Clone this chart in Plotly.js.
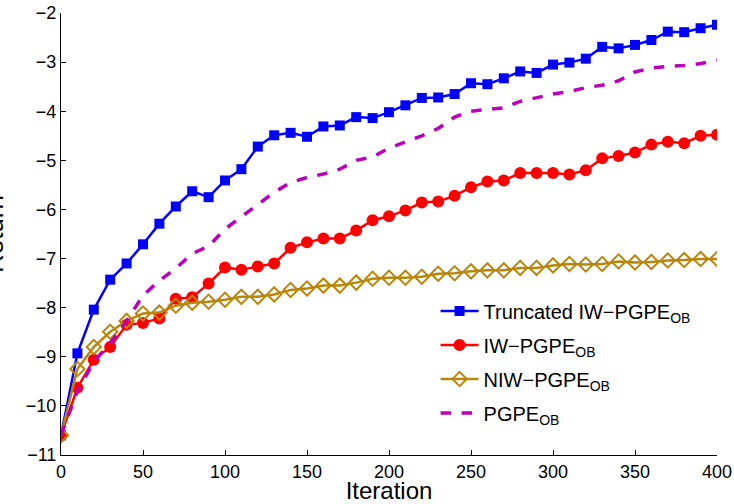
<!DOCTYPE html>
<html>
<head>
<meta charset="utf-8">
<script src="https://cdn.plot.ly/plotly-3.0.1.min.js"></script>
<style>html,body{margin:0;padding:0;background:#fff;}#chart{width:734px;height:504px;}</style>
</head>
<body>
<div id="chart"></div>
<script>
const iterations = [0,10,20,30,40,50,60,70,80,90,100,110,120,130,140,150,160,170,180,190,200,210,220,230,240,250,260,270,280,290,300,310,320,330,340,350,360,370,380,390,400];
const truncatedIW = [-10.6,-8.93,-8.04,-7.43,-7.10,-6.71,-6.29,-5.94,-5.63,-5.75,-5.41,-5.18,-4.72,-4.49,-4.44,-4.52,-4.31,-4.29,-4.12,-4.14,-4.02,-3.88,-3.73,-3.72,-3.65,-3.43,-3.45,-3.33,-3.19,-3.22,-3.05,-3.01,-2.93,-2.69,-2.72,-2.65,-2.55,-2.38,-2.39,-2.31,-2.24];
const iwPGPE = [-10.6,-9.63,-9.06,-8.80,-8.35,-8.31,-8.22,-7.82,-7.79,-7.51,-7.18,-7.23,-7.16,-7.10,-6.78,-6.67,-6.59,-6.59,-6.43,-6.22,-6.14,-6.02,-5.86,-5.84,-5.72,-5.55,-5.43,-5.41,-5.26,-5.26,-5.26,-5.29,-5.20,-4.96,-4.91,-4.84,-4.68,-4.62,-4.65,-4.50,-4.48];
const niwPGPE = [-10.6,-9.25,-8.80,-8.49,-8.27,-8.12,-8.10,-7.96,-7.90,-7.88,-7.84,-7.78,-7.78,-7.73,-7.64,-7.61,-7.55,-7.55,-7.49,-7.41,-7.39,-7.39,-7.37,-7.31,-7.30,-7.26,-7.24,-7.24,-7.19,-7.19,-7.14,-7.11,-7.12,-7.11,-7.06,-7.08,-7.07,-7.04,-7.03,-7.01,-7.01];
const pgpe = [-10.6,-9.7,-9.1,-8.72,-8.27,-7.75,-7.45,-7.2,-6.9,-6.75,-6.4,-6.15,-5.9,-5.65,-5.45,-5.35,-5.28,-5.18,-5.0,-4.93,-4.75,-4.62,-4.5,-4.35,-4.12,-4.0,-3.96,-3.93,-3.8,-3.72,-3.65,-3.6,-3.52,-3.47,-3.38,-3.2,-3.12,-3.09,-3.07,-3.03,-2.96];
const seriesNames = ['Truncated IW\u2212PGPE<sub>OB</sub>','IW\u2212PGPE<sub>OB</sub>','NIW\u2212PGPE<sub>OB</sub>','PGPE<sub>OB</sub>'];
const xTicks = [0,50,100,150,200,250,300,350,400];
const yTicks = [-11,-10,-9,-8,-7,-6,-5,-4,-3,-2];

const gold = '#B8860B';
const traces = [
  {x: iterations, y: truncatedIW, name: seriesNames[0], legendgroup: 'a', mode: 'lines+markers',
   line: {color: '#0000FF', width: 2.5}, marker: {symbol: 'square', size: 10, color: '#0000FF'}},
  {x: iterations, y: iwPGPE, name: seriesNames[1], legendgroup: 'b', mode: 'lines+markers',
   line: {color: '#FF0000', width: 2.5}, marker: {symbol: 'circle', size: 12, color: '#FF0000'}},
  {x: iterations, y: niwPGPE, name: seriesNames[2], legendgroup: 'c', mode: 'lines+markers',
   line: {color: gold, width: 2.5}, marker: {symbol: 'diamond-open', size: 11, color: gold, line: {width: 2, color: gold}}},
  {x: iterations, y: pgpe, name: seriesNames[3], legendgroup: 'd', mode: 'lines',
   line: {color: '#BB00BB', width: 3.5, dash: 'dash'}}
];

const font = {family: 'Liberation Sans, Arial, sans-serif', color: '#000'};
const layout = {
  width: 734, height: 504,
  margin: {l: 61, r: 17, t: 13, b: 49},
  paper_bgcolor: '#fff', plot_bgcolor: '#fff',
  font: Object.assign({size: 18}, font),
  showlegend: true,
  legend: {x: 0.571, y: 0.37, xanchor: 'left', yanchor: 'top', bgcolor: 'rgba(0,0,0,0)',
           borderwidth: 0, font: Object.assign({size: 20}, font), itemwidth: 38, tracegroupgap: 5},
  xaxis: {range: [0, 400], tickvals: xTicks, ticks: 'inside', ticklen: 5, tickcolor: '#000',
          showline: true, linecolor: '#000', linewidth: 1, showgrid: false, zeroline: false,
          tickfont: Object.assign({size: 18}, font),
          title: {text: 'Iteration', font: Object.assign({size: 24}, font), standoff: 6}},
  yaxis: {range: [-11, -2], tickvals: yTicks, ticks: 'inside', ticklen: 5, tickcolor: '#000',
          showline: true, linecolor: '#000', linewidth: 1, showgrid: false, zeroline: false,
          tickfont: Object.assign({size: 18}, font)},
  annotations: [{text: 'Return', xref: 'paper', yref: 'paper', x: -0.102, y: 0.5,
                 xanchor: 'center', yanchor: 'middle', textangle: -90, showarrow: false,
                 font: Object.assign({size: 26}, font)}]
};
Plotly.newPlot('chart', traces, layout, {displayModeBar: false, staticPlot: true});
</script>
</body>
</html>
